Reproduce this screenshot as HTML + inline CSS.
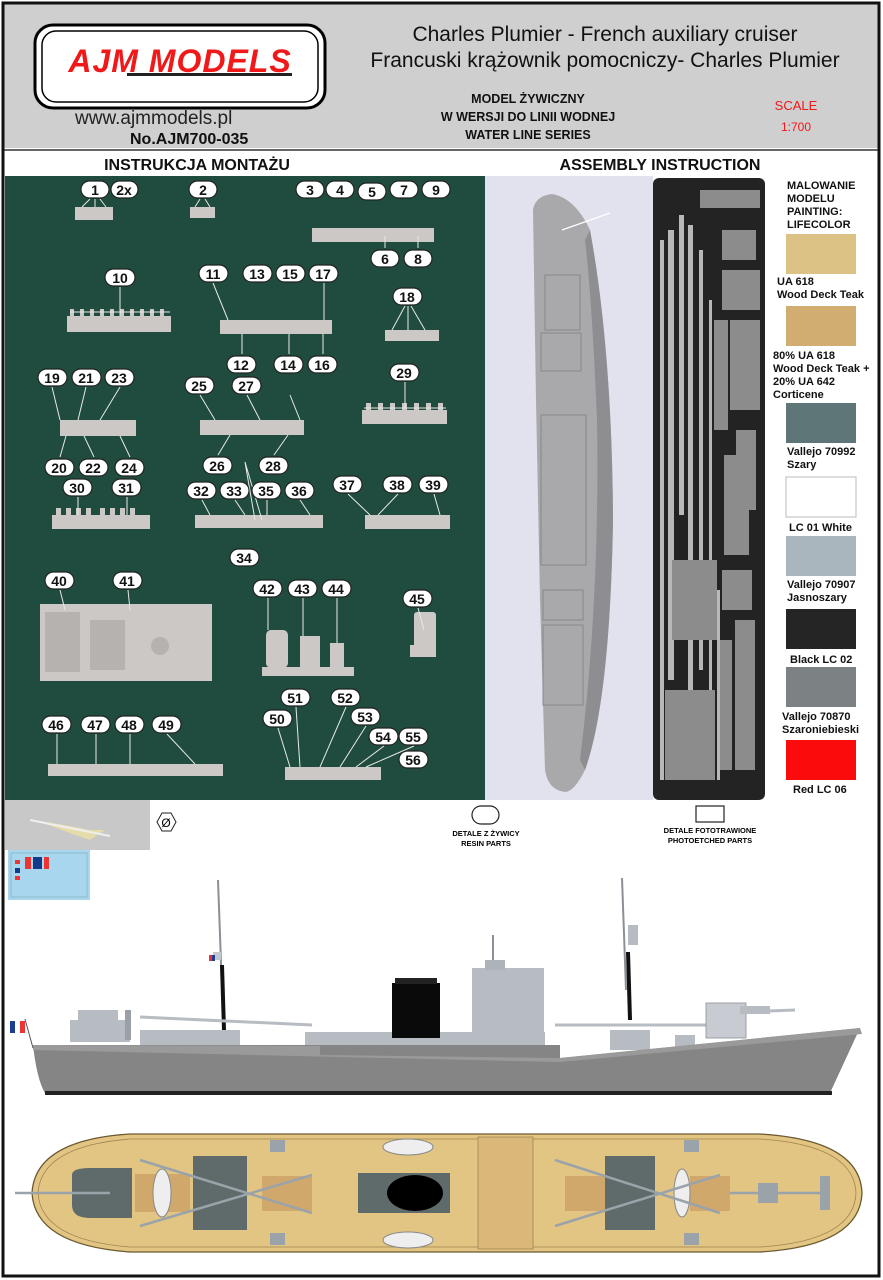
<!DOCTYPE html>
<html><head><meta charset="utf-8"><style>
body{margin:0;padding:0;width:883px;height:1280px;overflow:hidden;background:#fff;font-family:"Liberation Sans","Noto Sans CJK SC",sans-serif}
svg{display:block}
</style></head><body>
<svg width="883" height="1280" viewBox="0 0 883 1280" xmlns="http://www.w3.org/2000/svg" font-family="Liberation Sans, sans-serif">
<rect x="0" y="0" width="883" height="1280" fill="#fff"/>
<!-- header -->
<rect x="4" y="4" width="874" height="144" fill="#cfcfcf"/>
<rect x="35" y="25" width="290" height="83" rx="18" fill="#fff" stroke="#000" stroke-width="3"/>
<rect x="42" y="31" width="276" height="71" rx="14" fill="none" stroke="#000" stroke-width="1.5"/>
<text x="180" y="72" text-anchor="middle" font-size="32" font-weight="bold" font-style="italic" fill="#f01818" letter-spacing="1">AJM MODELS</text>
<rect x="127" y="73" width="165" height="3" fill="#222"/>
<text x="605" y="41" text-anchor="middle" font-size="21" fill="#111">Charles Plumier - French auxiliary cruiser</text>
<text x="605" y="67" text-anchor="middle" font-size="21" fill="#111">Francuski krążownik pomocniczy- Charles Plumier</text>
<text x="75" y="124" font-size="19" fill="#222">www.ajmmodels.pl</text>
<text x="130" y="144" font-size="16" font-weight="bold" fill="#111">No.AJM700-035</text>
<text x="528" y="103" text-anchor="middle" font-size="12.5" font-weight="bold" fill="#111">MODEL ŻYWICZNY</text>
<text x="528" y="121" text-anchor="middle" font-size="12.5" font-weight="bold" fill="#111">W WERSJI DO LINII WODNEJ</text>
<text x="528" y="139" text-anchor="middle" font-size="12.5" font-weight="bold" fill="#111">WATER LINE SERIES</text>
<text x="796" y="110" text-anchor="middle" font-size="13" fill="#f01818">SCALE</text>
<text x="796" y="131" text-anchor="middle" font-size="12" fill="#f01818">1:700</text>
<line x1="4" y1="150" x2="878" y2="150" stroke="#333" stroke-width="1.5"/>
<text x="197" y="170" text-anchor="middle" font-size="16" font-weight="bold" fill="#111">INSTRUKCJA MONTAŻU</text>
<text x="660" y="170" text-anchor="middle" font-size="16" font-weight="bold" fill="#111">ASSEMBLY INSTRUCTION</text>
<!-- green panel -->
<rect x="5" y="176" width="480" height="624" fill="#1f4c3e"/>
<g fill="#cbc8c6">
<rect x="75" y="207" width="38" height="13"/><rect x="190" y="207" width="25" height="11"/>
<rect x="312" y="228" width="122" height="14"/><rect x="67" y="316" width="104" height="16"/>
<rect x="220" y="320" width="112" height="14"/><rect x="385" y="330" width="54" height="11"/>
<rect x="60" y="420" width="76" height="16"/><rect x="200" y="420" width="104" height="15"/>
<rect x="362" y="410" width="85" height="14"/><rect x="52" y="515" width="98" height="14"/>
<rect x="195" y="515" width="128" height="13"/><rect x="365" y="515" width="85" height="14"/>
<rect x="40" y="604" width="172" height="77"/>
<rect x="262" y="667" width="92" height="9"/><rect x="266" y="630" width="22" height="38" rx="5"/>
<rect x="300" y="636" width="20" height="32"/><rect x="330" y="643" width="14" height="25"/>
<rect x="414" y="612" width="22" height="38" rx="3"/><rect x="410" y="645" width="26" height="12"/>
<rect x="48" y="764" width="175" height="12"/><rect x="285" y="767" width="96" height="13"/>
</g>
<g fill="#cbc8c6">
<rect x="70" y="309" width="4" height="8"/><rect x="80" y="309" width="4" height="8"/><rect x="90" y="309" width="4" height="8"/><rect x="100" y="309" width="4" height="8"/><rect x="110" y="309" width="4" height="8"/><rect x="120" y="309" width="4" height="8"/><rect x="130" y="309" width="4" height="8"/><rect x="140" y="309" width="4" height="8"/><rect x="150" y="309" width="4" height="8"/><rect x="160" y="309" width="4" height="8"/>
<rect x="366" y="403" width="5" height="8"/><rect x="378" y="403" width="5" height="8"/><rect x="390" y="403" width="5" height="8"/><rect x="402" y="403" width="5" height="8"/><rect x="414" y="403" width="5" height="8"/><rect x="426" y="403" width="5" height="8"/><rect x="438" y="403" width="5" height="8"/>
<rect x="56" y="508" width="5" height="8"/><rect x="66" y="508" width="5" height="8"/><rect x="76" y="508" width="5" height="8"/><rect x="86" y="508" width="5" height="8"/><rect x="100" y="508" width="5" height="8"/><rect x="110" y="508" width="5" height="8"/><rect x="120" y="508" width="5" height="8"/><rect x="130" y="508" width="5" height="8"/>
</g>
<g fill="#b5b2b0"><rect x="45" y="612" width="35" height="60"/><rect x="90" y="620" width="35" height="50"/><circle cx="160" cy="646" r="9"/></g>
<g stroke="#e8e8e8" stroke-width="1" fill="none">
<path d="M90 199L82 207M95 199L95 207M100 199L106 207"/><path d="M200 199L195 207M205 199L210 207"/>
<path d="M120 287V316M70 312H170"/><path d="M405 306L392 330M408 306V330M411 306L425 330"/>
<path d="M405 382V408M364 408H446"/><path d="M213 283L228 320M324 283V320"/>
<path d="M245 462L255 520M245 462L262 520"/><path d="M200 395L215 420M247 395L260 420M290 395L300 420"/>
<path d="M52 387L60 420M86 387L78 420M120 387L100 420M60 457L66 436M94 457L84 436M130 457L120 436"/>
<path d="M218 455L230 435M274 455L288 435"/><path d="M348 494L370 515M398 494L378 515M434 494L440 515"/>
<path d="M60 590L65 610M128 590L130 610M268 598V630M303 598V636M337 598V643M418 608L424 630"/>
<path d="M57 734V764M96 734V764M130 734V764M167 734L195 764"/>
<path d="M278 728L290 767M296 707L300 767M346 707L320 767M366 726L340 767M384 746L356 767M414 746L366 767"/>
<path d="M385 248V236M418 248V236M242 354V334M289 354V334M323 354V334"/>
<path d="M78 497V515M127 497V515M202 500L210 515M235 500L245 515M267 500V515M300 500L310 515"/>
</g>
<g font-size="14" font-weight="bold" text-anchor="middle" fill="#111">
<g fill="#fff" stroke="#222" stroke-width="1.2">
<rect x="81" y="181" width="28" height="17" rx="8.5"/><rect x="111" y="181" width="27" height="17" rx="8.5"/>
<rect x="189" y="181" width="28" height="17" rx="8.5"/><rect x="296" y="181" width="28" height="17" rx="8.5"/>
<rect x="326" y="181" width="28" height="17" rx="8.5"/><rect x="358" y="183" width="28" height="17" rx="8.5"/>
<rect x="390" y="181" width="28" height="17" rx="8.5"/><rect x="422" y="181" width="28" height="17" rx="8.5"/>
<rect x="371" y="250" width="28" height="17" rx="8.5"/><rect x="404" y="250" width="28" height="17" rx="8.5"/>
<rect x="105" y="269" width="30" height="17" rx="8.5"/><rect x="199" y="265" width="29" height="17" rx="8.5"/>
<rect x="243" y="265" width="29" height="17" rx="8.5"/><rect x="276" y="265" width="29" height="17" rx="8.5"/>
<rect x="309" y="265" width="29" height="17" rx="8.5"/><rect x="227" y="356" width="29" height="17" rx="8.5"/>
<rect x="274" y="356" width="29" height="17" rx="8.5"/><rect x="308" y="356" width="29" height="17" rx="8.5"/>
<rect x="393" y="288" width="29" height="17" rx="8.5"/><rect x="38" y="369" width="29" height="17" rx="8.5"/>
<rect x="72" y="369" width="29" height="17" rx="8.5"/><rect x="105" y="369" width="29" height="17" rx="8.5"/>
<rect x="45" y="459" width="29" height="17" rx="8.5"/><rect x="79" y="459" width="29" height="17" rx="8.5"/>
<rect x="115" y="459" width="29" height="17" rx="8.5"/><rect x="185" y="377" width="29" height="17" rx="8.5"/>
<rect x="232" y="377" width="29" height="17" rx="8.5"/><rect x="390" y="364" width="29" height="17" rx="8.5"/>
<rect x="203" y="457" width="29" height="17" rx="8.5"/><rect x="259" y="457" width="29" height="17" rx="8.5"/>
<rect x="63" y="479" width="29" height="17" rx="8.5"/><rect x="112" y="479" width="29" height="17" rx="8.5"/>
<rect x="187" y="482" width="29" height="17" rx="8.5"/><rect x="220" y="482" width="29" height="17" rx="8.5"/>
<rect x="252" y="482" width="29" height="17" rx="8.5"/><rect x="285" y="482" width="29" height="17" rx="8.5"/>
<rect x="333" y="476" width="29" height="17" rx="8.5"/><rect x="383" y="476" width="29" height="17" rx="8.5"/>
<rect x="419" y="476" width="29" height="17" rx="8.5"/><rect x="230" y="549" width="29" height="17" rx="8.5"/>
<rect x="45" y="572" width="29" height="17" rx="8.5"/><rect x="113" y="572" width="29" height="17" rx="8.5"/>
<rect x="253" y="580" width="29" height="17" rx="8.5"/><rect x="288" y="580" width="29" height="17" rx="8.5"/>
<rect x="322" y="580" width="29" height="17" rx="8.5"/><rect x="403" y="590" width="29" height="17" rx="8.5"/>
<rect x="42" y="716" width="29" height="17" rx="8.5"/><rect x="81" y="716" width="29" height="17" rx="8.5"/>
<rect x="115" y="716" width="29" height="17" rx="8.5"/><rect x="152" y="716" width="29" height="17" rx="8.5"/>
<rect x="263" y="710" width="29" height="17" rx="8.5"/><rect x="281" y="689" width="29" height="17" rx="8.5"/>
<rect x="331" y="689" width="29" height="17" rx="8.5"/><rect x="351" y="708" width="29" height="17" rx="8.5"/>
<rect x="369" y="728" width="29" height="17" rx="8.5"/><rect x="399" y="728" width="29" height="17" rx="8.5"/>
<rect x="399" y="751" width="29" height="17" rx="8.5"/><rect x="607" y="203" width="29" height="17" rx="8.5"/>
</g>
<text x="95" y="195">1</text><text x="124" y="195">2x</text><text x="203" y="195">2</text>
<text x="310" y="195">3</text><text x="340" y="195">4</text><text x="372" y="197">5</text>
<text x="404" y="195">7</text><text x="436" y="195">9</text><text x="385" y="264">6</text><text x="418" y="264">8</text>
<text x="120" y="283">10</text><text x="213" y="279">11</text><text x="257" y="279">13</text><text x="290" y="279">15</text><text x="323" y="279">17</text>
<text x="241" y="370">12</text><text x="288" y="370">14</text><text x="322" y="370">16</text><text x="407" y="302">18</text>
<text x="52" y="383">19</text><text x="86" y="383">21</text><text x="119" y="383">23</text>
<text x="59" y="473">20</text><text x="93" y="473">22</text><text x="129" y="473">24</text>
<text x="199" y="391">25</text><text x="246" y="391">27</text><text x="404" y="378">29</text>
<text x="217" y="471">26</text><text x="273" y="471">28</text><text x="77" y="493">30</text><text x="126" y="493">31</text>
<text x="201" y="496">32</text><text x="234" y="496">33</text><text x="266" y="496">35</text><text x="299" y="496">36</text>
<text x="347" y="490">37</text><text x="397" y="490">38</text><text x="433" y="490">39</text><text x="244" y="563">34</text>
<text x="59" y="586">40</text><text x="127" y="586">41</text><text x="267" y="594">42</text><text x="302" y="594">43</text>
<text x="336" y="594">44</text><text x="417" y="604">45</text>
<text x="56" y="730">46</text><text x="95" y="730">47</text><text x="129" y="730">48</text><text x="166" y="730">49</text>
<text x="277" y="724">50</text><text x="295" y="703">51</text><text x="345" y="703">52</text><text x="365" y="722">53</text>
<text x="383" y="742">54</text><text x="413" y="742">55</text><text x="413" y="765">56</text><text x="621" y="217">58</text>
</g>
<!-- ship photo -->
<rect x="485" y="176" width="168" height="624" fill="#e2e2ee"/>
<path d="M533 210 Q535 196 552 194 Q575 198 590 230 Q612 350 613 520 Q610 700 585 770 Q574 792 565 792 Q548 790 545 770 L540 600 L536 400 Z" fill="#a9a9ab"/>
<path d="M590 230 Q612 350 613 520 Q610 700 585 770 L580 760 Q600 600 597 420 Q592 300 585 240Z" fill="#8e8e92"/>
<g fill="none" stroke="#88888c"><rect x="545" y="275" width="35" height="55"/><rect x="541" y="333" width="40" height="38"/><rect x="541" y="415" width="45" height="150"/><rect x="543" y="590" width="40" height="30"/><rect x="543" y="625" width="40" height="80"/></g>
<line x1="562" y1="230" x2="610" y2="213" stroke="#fff" stroke-width="1.2"/>
<!-- PE fret -->
<rect x="653" y="178" width="112" height="622" rx="6" fill="#232323"/>
<g fill="#b8b8b8">
<rect x="660" y="240" width="4" height="540"/><rect x="668" y="230" width="6" height="450"/><rect x="679" y="215" width="5" height="300"/>
<rect x="688" y="225" width="5" height="470"/><rect x="699" y="250" width="4" height="420"/><rect x="709" y="300" width="3" height="400"/>
<rect x="717" y="590" width="3" height="190"/>
</g>
<g fill="#8c8c8c">
<rect x="700" y="190" width="60" height="18"/><rect x="722" y="230" width="34" height="30"/><rect x="722" y="270" width="38" height="40"/>
<rect x="730" y="320" width="30" height="90"/><rect x="714" y="320" width="14" height="110"/><rect x="736" y="430" width="20" height="80"/>
<rect x="724" y="455" width="25" height="100"/><rect x="672" y="560" width="45" height="80"/><rect x="722" y="570" width="30" height="40"/>
<rect x="735" y="620" width="20" height="150"/><rect x="665" y="690" width="50" height="90"/><rect x="720" y="640" width="12" height="130"/>
</g>
<!-- paint swatches -->
<g font-size="11" font-weight="bold" fill="#111">
<text x="787" y="189">MALOWANIE</text><text x="787" y="202">MODELU</text><text x="787" y="215">PAINTING:</text><text x="787" y="228">LIFECOLOR</text>
<rect x="786" y="234" width="70" height="40" fill="#dcc284"/>
<text x="777" y="285">UA 618</text><text x="777" y="298">Wood Deck Teak</text>
<rect x="786" y="306" width="70" height="40" fill="#d1ad72"/>
<text x="773" y="359">80% UA 618</text><text x="773" y="372">Wood Deck Teak +</text><text x="773" y="385">20% UA 642</text><text x="773" y="398">Corticene</text>
<rect x="786" y="403" width="70" height="40" fill="#5e7677"/>
<text x="787" y="455">Vallejo 70992</text><text x="787" y="468">Szary</text>
<rect x="786" y="477" width="70" height="40" fill="#fff" stroke="#bbb"/>
<text x="789" y="531">LC 01 White</text>
<rect x="786" y="536" width="70" height="40" fill="#a9b6bd"/>
<text x="787" y="588">Vallejo 70907</text><text x="787" y="601">Jasnoszary</text>
<rect x="786" y="609" width="70" height="40" fill="#252525"/>
<text x="790" y="663">Black LC 02</text>
<rect x="786" y="667" width="70" height="40" fill="#7c8284"/>
<text x="782" y="720">Vallejo 70870</text><text x="782" y="733">Szaroniebieski</text>
<rect x="786" y="740" width="70" height="40" fill="#fb0b0b"/>
<text x="793" y="793">Red LC 06</text>
</g>
<!-- under panel -->
<rect x="5" y="800" width="145" height="50" fill="#c8c8c8"/>
<path d="M35 820 L70 826 L90 830 L105 830 L90 840 L70 833 Z" fill="#e6dcaa"/><line x1="30" y1="820" x2="110" y2="836" stroke="#eee" stroke-width="2"/>
<path d="M157 822 l5 -9 h9 l5 9 l-5 9 h-9z" fill="#fff" stroke="#222"/><text x="166" y="827" text-anchor="middle" font-size="12">Ø</text>
<rect x="472" y="806" width="27" height="18" rx="9" fill="#fff" stroke="#222" stroke-width="1.2"/>
<text x="486" y="836" text-anchor="middle" font-size="7.5" font-weight="bold">DETALE Z ŻYWICY</text>
<text x="486" y="846" text-anchor="middle" font-size="7.5" font-weight="bold">RESIN PARTS</text>
<rect x="696" y="806" width="28" height="16" fill="#fff" stroke="#222" stroke-width="1.2"/>
<text x="710" y="833" text-anchor="middle" font-size="7.5" font-weight="bold">DETALE FOTOTRAWIONE</text>
<text x="710" y="843" text-anchor="middle" font-size="7.5" font-weight="bold">PHOTOETCHED PARTS</text>
<rect x="8" y="850" width="82" height="50" fill="#a8d6ee"/>
<rect x="11" y="853" width="76" height="44" fill="none" stroke="#7aa" stroke-width="0.6"/>
<rect x="25" y="857" width="6" height="12" fill="#e33"/><rect x="33" y="857" width="9" height="12" fill="#123b8a"/><rect x="44" y="857" width="5" height="12" fill="#e33"/>
<rect x="15" y="860" width="5" height="4" fill="#e33"/><rect x="15" y="868" width="5" height="5" fill="#123b8a"/><rect x="15" y="876" width="5" height="4" fill="#e33"/>
<!-- side view -->
<g>
<line x1="218" y1="880" x2="222" y2="990" stroke="#8a9096" stroke-width="2"/>
<line x1="224" y1="1030" x2="222" y2="965" stroke="#111" stroke-width="4"/>
<line x1="622" y1="878" x2="626" y2="990" stroke="#8a9096" stroke-width="2"/>
<line x1="630" y1="1020" x2="628" y2="952" stroke="#111" stroke-width="4"/>
<rect x="213" y="952" width="8" height="8" fill="#c2c8ce"/><rect x="209" y="955" width="3" height="6" fill="#e33"/><rect x="212" y="955" width="3" height="6" fill="#1c3f95"/>
<rect x="628" y="925" width="10" height="20" fill="#b7bcc3"/>
<path d="M140 1045 L140 1030 L240 1030 L240 1045Z" fill="#b7bcc3"/>
<rect x="70" y="1020" width="60" height="22" fill="#b7bcc3"/><rect x="78" y="1010" width="40" height="12" fill="#b7bcc3"/>
<rect x="125" y="1010" width="6" height="30" fill="#9aa0a6"/>
<line x1="140" y1="1017" x2="312" y2="1025" stroke="#b7bcc3" stroke-width="3"/>
<line x1="555" y1="1025" x2="720" y2="1025" stroke="#b7bcc3" stroke-width="3"/>
<path d="M305 1050 L305 1032 L545 1032 L545 1050Z" fill="#b7bcc3"/>
<rect x="392" y="983" width="48" height="55" fill="#0a0a0a"/><rect x="395" y="978" width="42" height="6" fill="#222"/>
<rect x="472" y="968" width="72" height="78" fill="#b7bcc3"/><rect x="485" y="960" width="20" height="10" fill="#aeb3ba"/>
<line x1="493" y1="935" x2="493" y2="960" stroke="#8a9096" stroke-width="2"/>
<rect x="610" y="1030" width="40" height="20" fill="#b7bcc3"/><rect x="675" y="1035" width="20" height="15" fill="#b7bcc3"/>
<rect x="706" y="1003" width="40" height="35" fill="#c8ccd2" stroke="#8a9096" stroke-width="0.8"/>
<rect x="740" y="1006" width="30" height="8" fill="#b7bcc3"/><line x1="740" y1="1012" x2="795" y2="1010" stroke="#b7bcc3" stroke-width="3"/>
<path d="M33 1045 L560 1045 L560 1058 L860 1028 L830 1093 L45 1093 Q37 1080 33 1045Z" fill="#858585"/>
<path d="M33 1045 L320 1046 L320 1055 L560 1058 L860 1028 L862 1034 L560 1062 L33 1050Z" fill="#9a9a9a"/>
<rect x="45" y="1091" width="787" height="4" fill="#222"/>
<rect x="10" y="1021" width="5" height="12" fill="#1c3f95"/><rect x="15" y="1021" width="5" height="12" fill="#fff"/><rect x="20" y="1021" width="5" height="12" fill="#e33"/>
<line x1="25" y1="1019" x2="33" y2="1048" stroke="#555"/>
</g>
<!-- top view -->
<path d="M130 1134 L760 1134 Q860 1140 862 1193 Q860 1246 760 1252 L130 1252 Q35 1245 32 1193 Q35 1140 130 1134Z" fill="#e2c483" stroke="#6b5a30" stroke-width="1.3"/>
<path d="M130 1139 L760 1139 Q854 1145 856 1193 Q854 1241 760 1247 L130 1247 Q41 1240 38 1193 Q41 1146 130 1139Z" fill="none" stroke="#a08650" stroke-width="0.8"/>
<rect x="135" y="1174" width="55" height="38" fill="#d1a86c"/><rect x="262" y="1176" width="50" height="35" fill="#d1a86c"/>
<rect x="565" y="1176" width="50" height="35" fill="#d1a86c"/><rect x="690" y="1176" width="40" height="35" fill="#d1a86c"/>
<path d="M72 1175 Q72 1168 90 1168 L132 1168 L132 1218 L90 1218 Q72 1218 72 1205Z" fill="#5e6b6a"/>
<rect x="193" y="1156" width="54" height="74" fill="#5e6b6a"/>
<rect x="605" y="1156" width="50" height="74" fill="#5e6b6a"/>
<rect x="358" y="1173" width="92" height="40" fill="#5e6b6a"/>
<ellipse cx="415" cy="1193" rx="28" ry="18" fill="#000"/>
<ellipse cx="162" cy="1193" rx="9" ry="24" fill="#eee" stroke="#888"/>
<ellipse cx="682" cy="1193" rx="8" ry="24" fill="#eee" stroke="#888"/>
<ellipse cx="408" cy="1147" rx="25" ry="8" fill="#eee" stroke="#888"/>
<ellipse cx="408" cy="1240" rx="25" ry="8" fill="#eee" stroke="#888"/>
<g stroke="#9aa3aa" stroke-width="2.5"><line x1="140" y1="1160" x2="312" y2="1213"/><line x1="140" y1="1226" x2="312" y2="1175"/><line x1="555" y1="1160" x2="720" y2="1213"/><line x1="555" y1="1226" x2="720" y2="1175"/><line x1="15" y1="1193" x2="110" y2="1193"/><line x1="730" y1="1193" x2="820" y2="1193"/></g>
<rect x="478" y="1137" width="55" height="112" fill="#d9b87a" stroke="#8a7444" stroke-width="0.6"/>
<g fill="#9aa3aa"><rect x="270" y="1140" width="15" height="12"/><rect x="270" y="1233" width="15" height="12"/><rect x="684" y="1140" width="15" height="12"/><rect x="684" y="1233" width="15" height="12"/><rect x="758" y="1183" width="20" height="20"/><rect x="820" y="1176" width="10" height="34"/></g>
<!-- border -->
<rect x="3" y="3" width="876" height="1273" fill="none" stroke="#111" stroke-width="3"/>
</svg>
</body></html>
